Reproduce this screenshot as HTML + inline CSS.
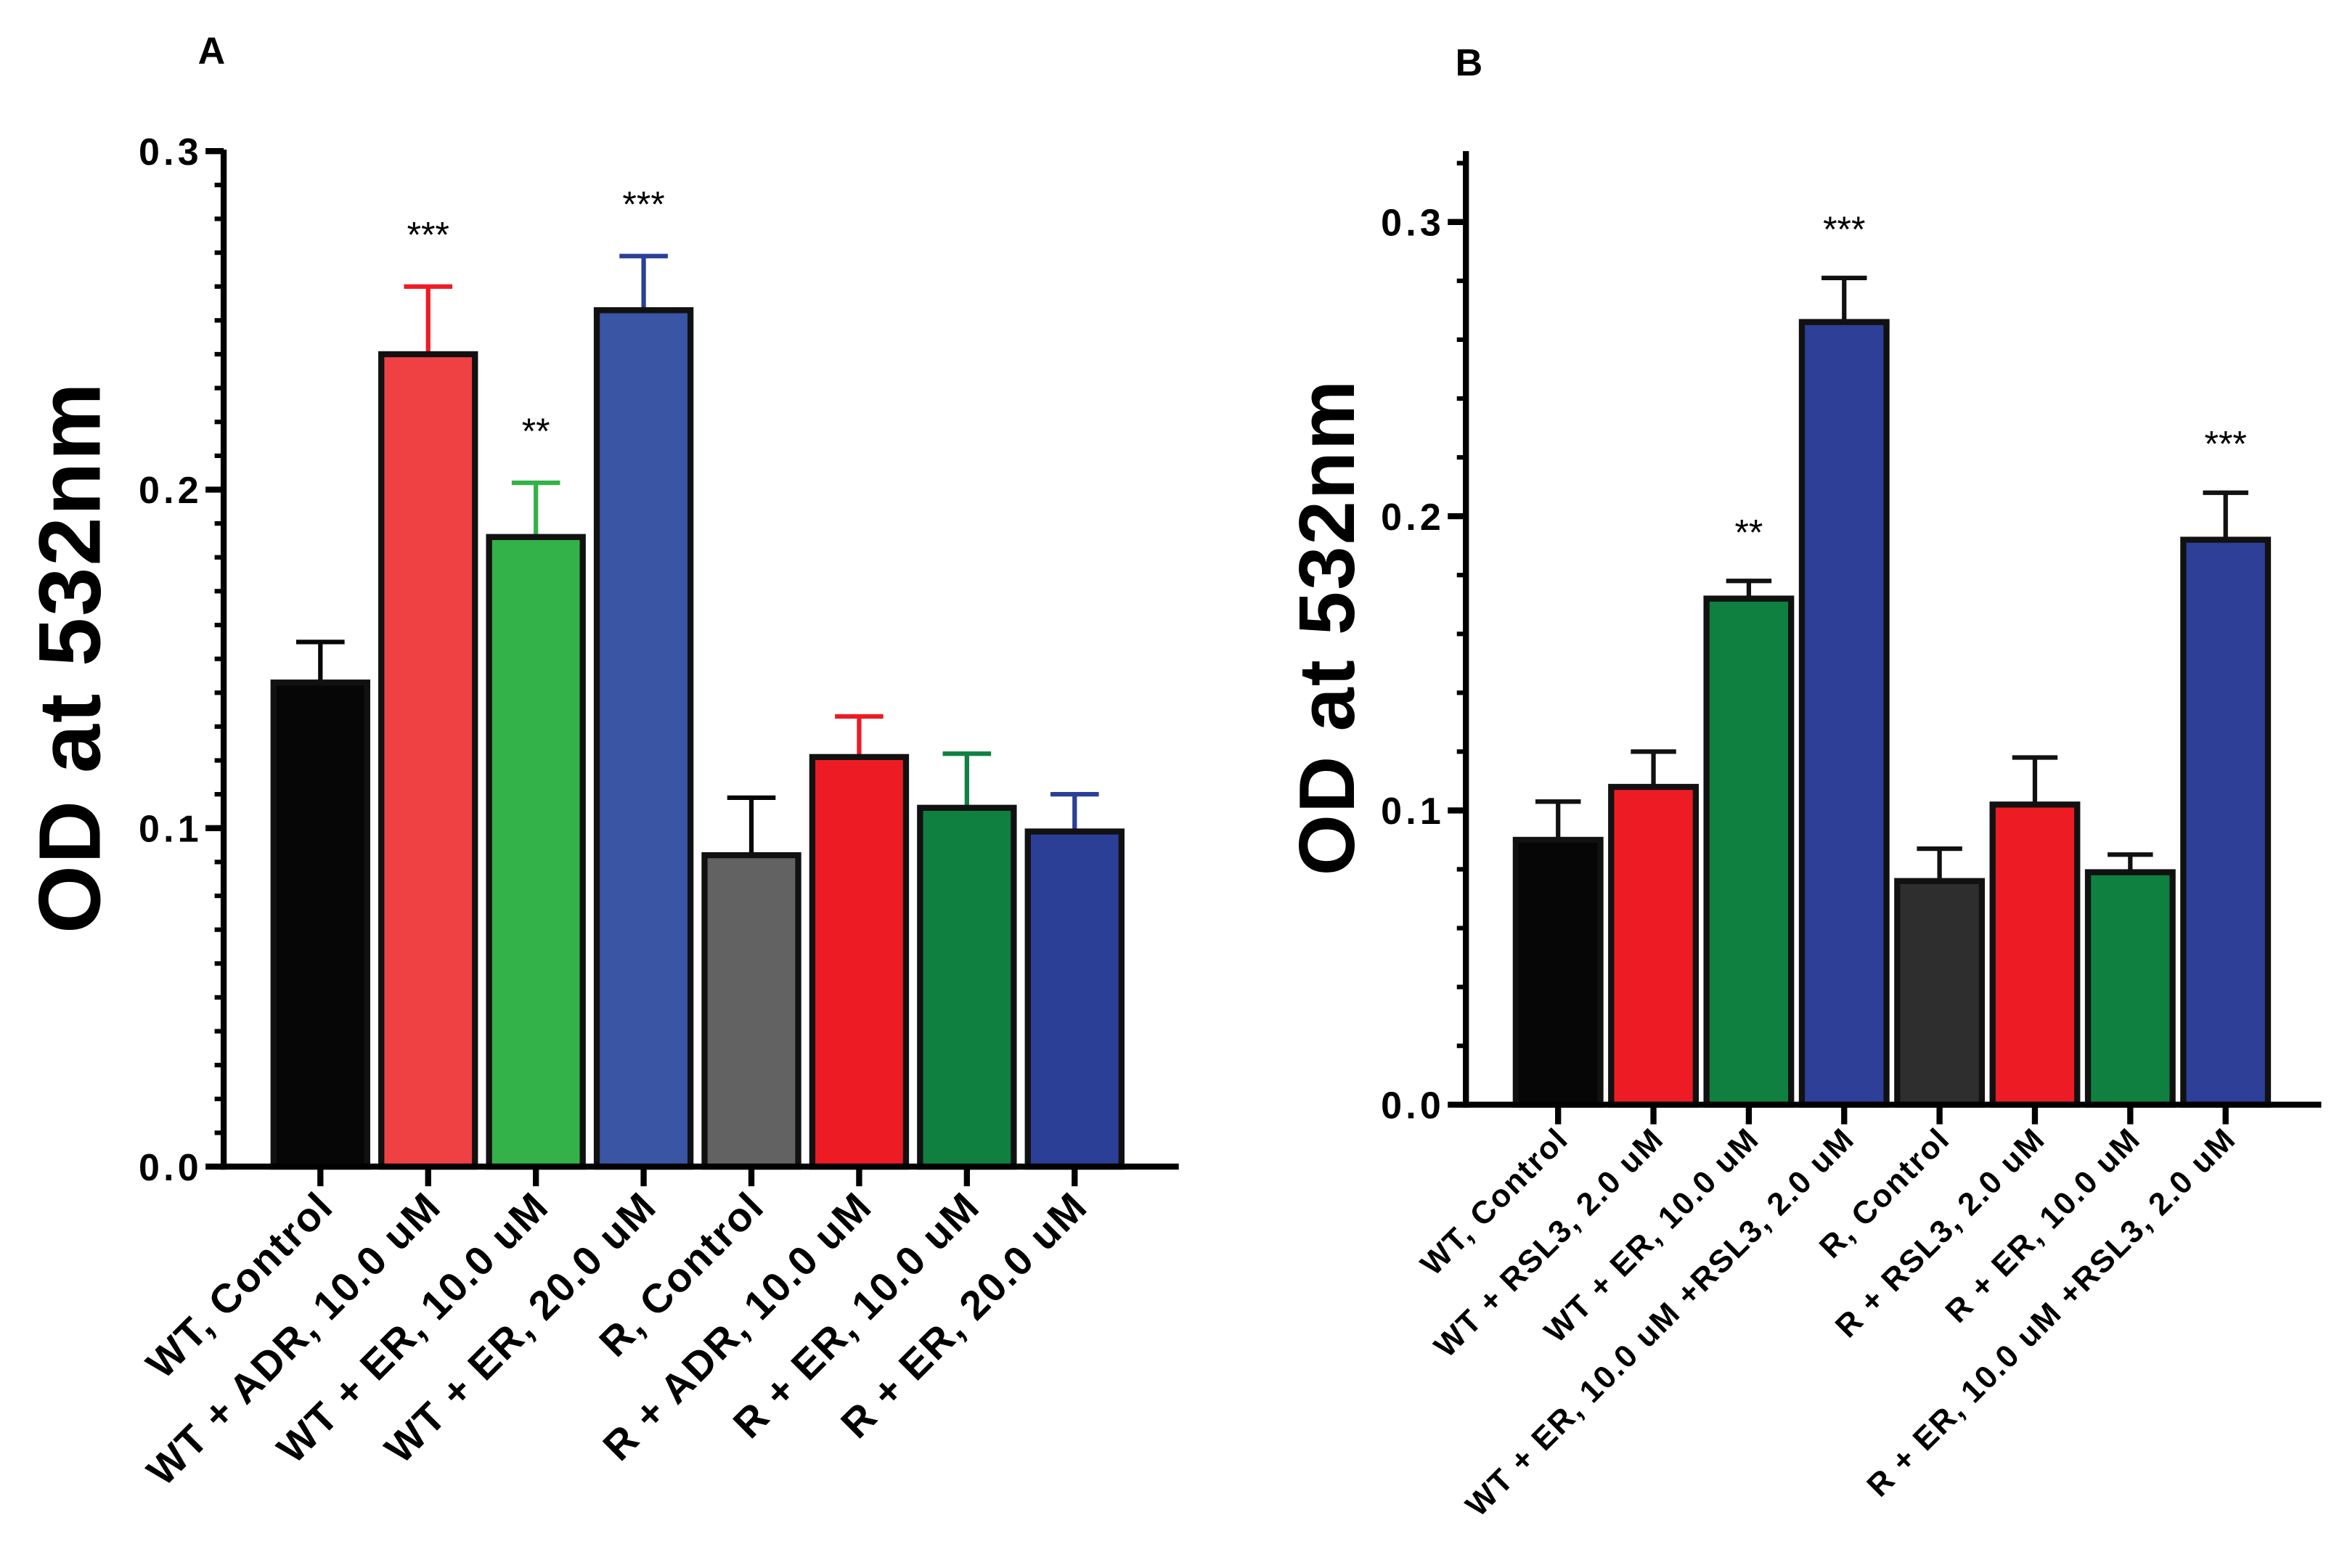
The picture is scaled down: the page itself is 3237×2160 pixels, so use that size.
<!DOCTYPE html>
<html><head><meta charset="utf-8"><style>
html,body{margin:0;padding:0;background:#fff;}
svg{display:block;font-family:"Liberation Sans",Arial,sans-serif;font-weight:bold;}
</style></head><body>
<svg id="fig" width="3237" height="2160" viewBox="0 0 1555 1037.6" preserveAspectRatio="none" xmlns="http://www.w3.org/2000/svg">
<text x="140" y="42" font-size="25" text-anchor="middle">A</text>
<text x="972" y="50" font-size="25" text-anchor="middle">B</text>
<text transform="translate(66,435) rotate(-90)" font-size="58" letter-spacing="1" text-anchor="middle">OD at 532nm</text>
<text transform="translate(896,415) rotate(-90)" font-size="52" letter-spacing="1" text-anchor="middle">OD at 532nm</text>
</svg>
<script>
const catsA=["WT, Control","WT + ADR, 10.0 uM","WT + ER, 10.0 uM","WT + ER, 20.0 uM","R, Control","R + ADR, 10.0 uM","R + ER, 10.0 uM","R + ER, 20.0 uM"];
const valsA=[0.143,0.240,0.186,0.253,0.092,0.121,0.106,0.099];
const errA=[0.155,0.260,0.202,0.269,0.109,0.133,0.122,0.110];
const starsA=["","***","**","***","","","",""];
const ticksA=["0.0","0.1","0.2","0.3"];
const catsB=["WT, Control","WT + RSL3, 2.0 uM","WT + ER, 10.0 uM","WT + ER, 10.0 uM +RSL3, 2.0 uM","R, Control","R + RSL3, 2.0 uM","R + ER, 10.0 uM","R +  ER, 10.0 uM +RSL3, 2.0 uM"];
const valsB=[0.090,0.108,0.172,0.266,0.076,0.102,0.079,0.192];
const errB=[0.103,0.120,0.178,0.281,0.087,0.118,0.085,0.208];
const starsB=["","","**","***","","","","***"];
const ticksB=["0.0","0.1","0.2","0.3"];

const colA=["#050605","#ef4144","#33b249","#3a55a4","#626262","#ed1c24","#0f8040","#2b3f97"];
const capA=["#050605","#ed1c24","#33b249","#2b3f97","#050605","#ed1c24","#0f8040","#2b3f97"];
const colB=["#050605","#ed1c24","#0f8040","#2e3f98","#2e2e2e","#ed1c24","#0f8040","#2e3f98"];
const NS="http://www.w3.org/2000/svg";
const svg=document.getElementById('fig');
function mk(tag,attrs){const e=document.createElementNS(NS,tag);for(const k in attrs)e.setAttribute(k,attrs[k]);svg.appendChild(e);return e;}

function panel(p,cats,vals,errs,stars,ticks,cols,caps,cfg){
  const y=v=>cfg.y0-(v/0.1)*cfg.per;
  const x=i=>cfg.x0+i*cfg.step;
  vals.forEach((v,i)=>{
    const cx=x(i);
    const ln=mk('line',{x1:cx,x2:cx,y1:y(v),y2:y(errs[i]),stroke:caps[i],'stroke-width':3});
    
    
    const cp=mk('line',{x1:cx-cfg.cap,x2:cx+cfg.cap,y1:y(errs[i]),y2:y(errs[i]),stroke:caps[i],'stroke-width':3});
    
    
    const r=mk('rect',{x:cx-cfg.bw/2,y:y(v),width:cfg.bw,height:y(0)-y(v),fill:cols[i],stroke:'#111','stroke-width':4});
    
    
    if(stars[i]){
      const s=mk('text',{x:cx,y:y(errs[i])-cfg.sg,'font-size':24,'font-weight':'normal','text-anchor':'middle'});
      s.textContent=stars[i];
      
      
    }
    const t=mk('line',{x1:cx,x2:cx,y1:cfg.y0,y2:cfg.y0+13,stroke:'#000','stroke-width':4});
    
    
    const lb=mk('text',{transform:`translate(${cx+cfg.lx},${cfg.y0+cfg.ly}) rotate(-45)`,'font-size':cfg.lf,'letter-spacing':1,'text-anchor':'end'});
    lb.textContent=cats[i];
    
    
  });
  const ya=mk('line',{x1:cfg.ax,x2:cfg.ax,y1:cfg.yTop,y2:cfg.y0+2,stroke:'#000','stroke-width':4});
  
  
  const xa=mk('line',{x1:cfg.ax-2,x2:cfg.xEnd,y1:cfg.y0,y2:cfg.y0,stroke:'#000','stroke-width':4});
  
  
  for(let v=0;v<=cfg.vmax+1e-9;v+=cfg.minor){
    const m=mk('line',{x1:cfg.ax-6,x2:cfg.ax,y1:y(v),y2:y(v),stroke:'#000','stroke-width':3});
    
    
  }
  ticks.forEach(tk=>{
    const v=parseFloat(tk);
    const m=mk('line',{x1:cfg.ax-12,x2:cfg.ax,y1:y(v),y2:y(v),stroke:'#000','stroke-width':4});
    
    
    const t=mk('text',{x:cfg.ax-14,y:y(v)+9,'font-size':25,'letter-spacing':2.5,'text-anchor':'end'});
    t.textContent=tk;
    
    
  });
}
panel('a',catsA,valsA,errA,starsA,ticksA,colA,capA,{y0:772,per:224,x0:212,step:71.3,bw:62,cap:16,ax:148,xEnd:780,yTop:99,vmax:0.3,minor:0.01,lf:27,lx:10,ly:28,sg:26});
panel('b',catsB,valsB,errB,starsB,ticksB,colB,colB.map(()=>'#111'),{y0:731,per:194.7,x0:1031,step:63.1,bw:56,cap:15,ax:970,xEnd:1536,yTop:100,vmax:0.32,minor:0.02,lf:21,lx:8,ly:24,sg:24});
</script>
</body></html>
